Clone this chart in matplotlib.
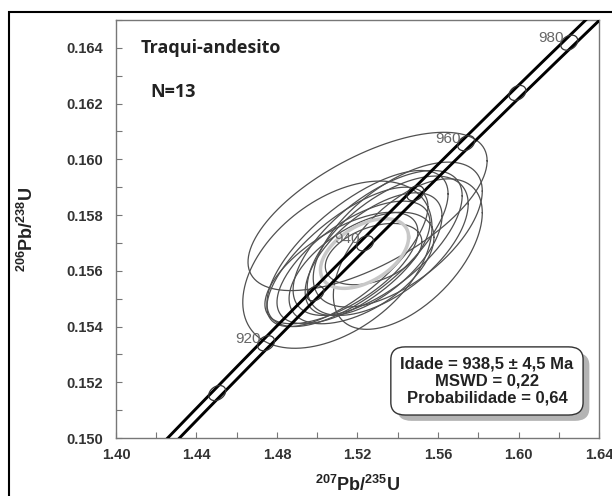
"""
Concordia diagram - Traqui-andesito (U-Pb zircon)
Saves out.png
"""
import numpy as np
import matplotlib.pyplot as plt
from matplotlib.patches import FancyBboxPatch, Rectangle

# -------------------
# Data
# -------------------
# decay constants (1/yr) and 2-sigma relative error of lambda 235
LAMBDA_238 = 1.55125e-10
LAMBDA_235 = 9.8485e-10
LAMBDA_235_ERR = 0.00136

# ages (Ma) of concordia markers and which ones get a label
marker_ages = [910, 920, 930, 940, 950, 960, 970, 980]
label_ages = [920, 940, 960, 980]

# analyses: 207Pb/235U, 206Pb/238U, 2s half extents, error correlation
pb207_u235 = [1.525, 1.510, 1.528, 1.520, 1.530, 1.518, 1.535, 1.515, 1.540, 1.522, 1.528, 1.512, 1.545]
pb206_u238 = [0.15813, 0.15622, 0.1566, 0.1568, 0.1570, 0.1563, 0.1569, 0.1565, 0.1573, 0.1561, 0.1566, 0.1561, 0.1566]
err_x = [0.0594, 0.047, 0.024, 0.045, 0.042, 0.038, 0.040, 0.040, 0.042, 0.036, 0.034, 0.038, 0.037]
err_y = [0.00284, 0.0030, 0.0011, 0.0028, 0.0026, 0.0022, 0.0025, 0.0025, 0.0026, 0.0020, 0.0022, 0.0020, 0.0027]
rho = [0.64, 0.45, 0.40, 0.70, 0.65, 0.65, 0.60, 0.72, 0.60, 0.55, 0.62, 0.65, 0.55]

# concordia age ellipse
age_x, age_y, age_ex, age_ey, age_rho = 1.5235, 0.15662, 0.0219, 0.00125, 0.47

sample_name = "Traqui-andesito"
n_label = "N=13"
result_lines = ["Idade = 938,5 \u00b1 4,5 Ma", "MSWD = 0,22", "Probabilidade = 0,64"]

x_ticks = [1.40, 1.44, 1.48, 1.52, 1.56, 1.60, 1.64]
y_ticks = [0.150, 0.152, 0.154, 0.156, 0.158, 0.160, 0.162, 0.164]


def concordia(t_ma, lam235=LAMBDA_235):
    t = np.asarray(t_ma) * 1e6
    return np.exp(lam235 * t) - 1, np.exp(LAMBDA_238 * t) - 1


def ellipse_pts(cx, cy, ex, ey, r, n=240):
    a = np.linspace(0, 2 * np.pi, n)
    return cx + ex * np.cos(a), cy + ey * (r * np.cos(a) + np.sqrt(1 - r ** 2) * np.sin(a))


# -------------------
# Figure
# -------------------
plt.rcParams["font.family"] = ["Liberation Sans", "DejaVu Sans"]
plt.rcParams["mathtext.fontset"] = "custom"
plt.rcParams["mathtext.bf"] = "Liberation Sans:bold"
plt.rcParams["mathtext.rm"] = "Liberation Sans:bold"
plt.rcParams["mathtext.default"] = "bf"

fig = plt.figure(figsize=(6.12, 4.96), dpi=100)
ax = fig.add_axes([0.1895, 0.1169, 0.7893, 0.8428])

# outer frame
fig.patches.append(Rectangle((9 / 612, -0.01), 1.0, 1 - 12 / 496 + 0.01, transform=fig.transFigure,
                             fill=False, lw=1.5, ec="black"))

# data ellipses
for i in range(len(pb207_u235)):
    ex, ey = ellipse_pts(pb207_u235[i], pb206_u238[i], err_x[i], err_y[i], rho[i])
    ax.plot(ex, ey, color="#505050", lw=0.9, zorder=2)

ex, ey = ellipse_pts(age_x, age_y, age_ex, age_ey, age_rho)
ax.plot(ex, ey, color="#c8c8c8", lw=2.5, zorder=3)

# concordia band
t_line = np.linspace(880, 1000, 400)
for sign in (-1, 1):
    cx_line, cy_line = concordia(t_line, LAMBDA_235 * (1 + sign * LAMBDA_235_ERR))
    ax.plot(cx_line, cy_line, color="black", lw=2.1, zorder=4)

# age markers
mx, my = concordia(marker_ages)
for x0, y0, age in zip(mx, my, marker_ages):
    ex, ey = ellipse_pts(x0, y0, 0.0042, 0.00027, 0.3, 60)
    ax.plot(ex, ey, color="#333333", lw=0.9, zorder=5)
    if age in label_ages:
        ax.annotate(str(age), (x0, y0), xytext=(-4, 3), textcoords="offset points",
                    ha="right", va="center", fontsize=11, color="#666666", zorder=6)

# -------------------
# Axes styling
# -------------------
ax.set_xlim(1.40, 1.64)
ax.set_ylim(0.150, 0.165)
ax.set_xticks(x_ticks)
ax.set_xticklabels([f"{v:.2f}" for v in x_ticks])
ax.set_yticks(y_ticks)
ax.set_yticklabels([f"{v:.3f}" for v in y_ticks])
ax.set_xticks(np.arange(1.42, 1.64, 0.04), minor=True)
ax.set_yticks(np.arange(0.151, 0.165, 0.002), minor=True)
ax.tick_params(which="both", direction="in", length=4, color="#777777", width=0.8)
ax.tick_params(axis="x", labelsize=10.5, labelcolor="#333333", pad=7)
ax.tick_params(axis="y", labelsize=10.5, labelcolor="#333333", pad=9)
for lab in ax.get_xticklabels() + ax.get_yticklabels():
    lab.set_fontweight("bold")
for s in ax.spines.values():
    s.set_color("#777777")
    s.set_linewidth(1)

ax.set_xlabel(r"$^{207}$Pb/$^{235}$U", fontsize=13, fontweight="bold", color="#222222")
ax.set_ylabel(r"$^{206}$Pb/$^{238}$U", fontsize=13, fontweight="bold", color="#222222")
ax.xaxis.set_label_coords(0.5, -0.088)
ax.yaxis.set_label_coords(-0.164, 0.5)

ax.text(1.412, 0.1640, sample_name, fontsize=13, fontweight="bold", family="Open Sans",
        color="#222222", va="center")
ax.text(1.417, 0.1624, n_label, fontsize=13, fontweight="bold", family="Open Sans",
        color="#222222", va="center")

# result box with shadow
shadow = FancyBboxPatch((0.582, 0.041), 0.398, 0.163, boxstyle="round,pad=0,rounding_size=0.03",
                        transform=ax.transAxes, fc="#b4b4b4", ec="none", zorder=7)
box = FancyBboxPatch((0.569, 0.055), 0.398, 0.163, boxstyle="round,pad=0,rounding_size=0.03",
                     transform=ax.transAxes, fc="white", ec="#333333", lw=1, zorder=8)
ax.add_patch(shadow)
ax.add_patch(box)
ax.text(0.768, 0.137, "\n".join(result_lines), transform=ax.transAxes, ha="center", va="center",
        fontsize=12, fontweight="bold", color="#222222", linespacing=1.15, zorder=9)

fig.savefig("out.png", dpi=100)
